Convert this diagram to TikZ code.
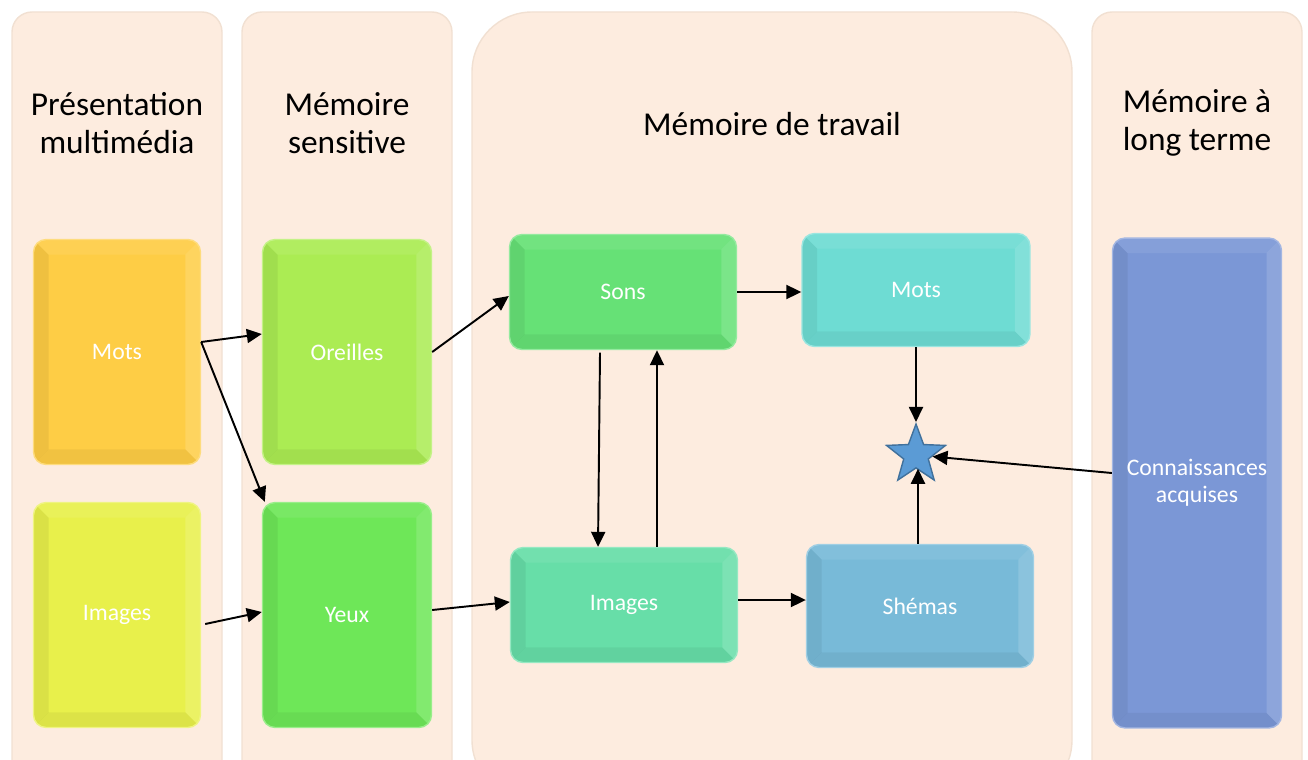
\documentclass[tikz,border=0pt]{standalone}
\usepackage{fontspec}
\setmainfont{Carlito}
\usetikzlibrary{arrows.meta,calc,shapes.geometric}

\definecolor{panelbg}{HTML}{FDECDF}
\definecolor{paneledge}{HTML}{F1E0D2}
\definecolor{motscol}{HTML}{FECD45}
\definecolor{imagescol}{HTML}{E8F04B}
\definecolor{oreillescol}{HTML}{ABEC53}
\definecolor{yeuxcol}{HTML}{6EE758}
\definecolor{sonscol}{HTML}{66E176}
\definecolor{imgtravcol}{HTML}{67DEA8}
\definecolor{motstravcol}{HTML}{6EDCD3}
\definecolor{shemascol}{HTML}{78BAD8}
\definecolor{conncol}{HTML}{7B97D6}
\definecolor{starfill}{HTML}{5B9BD5}
\definecolor{staredge}{HTML}{41719C}

\tikzset{
  panel/.style={fill=panelbg, draw=paneledge, line width=0.8pt},
  title/.style={font=\fontsize{19}{22}\selectfont, align=center, text=black},
  bevelbox/.style={rectangle, rounded corners=0.25cm, fill=#1, draw=#1!70!white,
    line width=0.8pt, text=white, align=center,
    font=\fontsize{13.5}{15.5}\selectfont,
    path picture={
      \path (path picture bounding box.south west) coordinate (bsw)
            (path picture bounding box.north east) coordinate (bne);
      % left and bottom faces darker, top and right lighter
      \fill[black, opacity=0.06, sharp corners] (bsw) -- (bsw |- bne)
        -- ($(bsw |- bne)+(0.3cm,-0.3cm)$) -- ($(bsw)+(0.3cm,0.3cm)$) -- cycle;
      \fill[black, opacity=0.05, sharp corners] (bsw) -- (bne |- bsw)
        -- ($(bne |- bsw)+(-0.3cm,0.3cm)$) -- ($(bsw)+(0.3cm,0.3cm)$) -- cycle;
      \fill[white, opacity=0.08, sharp corners] (bsw |- bne) -- (bne)
        -- ($(bne)+(-0.3cm,-0.3cm)$) -- ($(bsw |- bne)+(0.3cm,-0.3cm)$) -- cycle;
      \fill[white, opacity=0.14, sharp corners] (bne) -- (bne |- bsw)
        -- ($(bne |- bsw)+(-0.3cm,0.3cm)$) -- ($(bne)+(-0.3cm,-0.3cm)$) -- cycle;
    }},
  flow/.style={-{Triangle[length=0.3cm,width=0.28cm]}, line width=1.1pt, black},
}

\begin{document}
\begin{tikzpicture}[x=0.02cm, y=-0.02cm]
\useasboundingbox (0,0) rectangle (1308,760);
\clip (0,0) rectangle (1308,760);

% columns
\foreach \x in {12, 242, 1092}
{
  \draw[panel, rounded corners=0.4cm] (\x,12) rectangle (\x+210,800);
}
\draw[panel, rounded corners=1.2cm] (472,12) rectangle (1072,800);

% titles
\node[title] (tpres) at (117,123) {Présentation\\multimédia};
\node[title] (tsens) at (347,123) {Mémoire\\sensitive};
\node[title] (ttrav) at (772,124) {Mémoire de travail};
\node[title] (tlong) at (1197,123) {Mémoire à\\long terme};

% presentation and sensory memory
\node[bevelbox=motscol, minimum width=3.34cm, minimum height=4.5cm] (mots) at (117,352) {Mots};
\node[bevelbox=imagescol, minimum width=3.34cm, minimum height=4.5cm] (images) at (117,615) {Images};
\node[bevelbox=oreillescol, minimum width=3.38cm, minimum height=4.5cm] (oreilles) at (347,352) {Oreilles};
\node[bevelbox=yeuxcol, minimum width=3.38cm, minimum height=4.5cm] (yeux) at (347,615) {Yeux};

% working memory
\node[bevelbox=sonscol, minimum width=4.54cm, minimum height=2.3cm] (sons) at (623,292) {Sons};
\node[bevelbox=imgtravcol, minimum width=4.54cm, minimum height=2.3cm] (imgtrav) at (624,605) {Images};
\node[bevelbox=motstravcol, minimum width=4.56cm, minimum height=2.26cm] (motstrav) at (916,290) {Mots};
\node[bevelbox=shemascol, minimum width=4.54cm, minimum height=2.46cm] (shemas) at (920,606) {Shémas};
\node[star, star points=5, star point ratio=2.4, minimum size=1.24cm, inner sep=0pt,
      fill=starfill, draw=staredge, line width=0.8pt] (etoile) at (916,455) {};

% long term memory
\node[bevelbox=conncol, minimum width=3.38cm, minimum height=9.8cm] (conn) at (1197,483) {Connaissances\\acquises};

% connectors
\coordinate (motsout) at ([yshift=0.2cm]mots.east);
\draw[flow] (motsout) -- ([yshift=0.36cm]oreilles.west);
\draw[flow] (motsout) -- ([xshift=0.06cm]yeux.north west);
\draw[flow] (oreilles.east) -- ([yshift=-0.08cm]sons.west);
\draw[flow] ([xshift=0.08cm,yshift=-0.18cm]images.east) -- ([yshift=0.06cm]yeux.west);
\draw[flow] ([yshift=0.1cm]yeux.east) -- ([yshift=0.06cm]imgtrav.west);
\draw[flow] ([xshift=-0.46cm,yshift=-0.05cm]sons.south) -- ([xshift=-0.52cm]imgtrav.north);
\draw[flow] ([xshift=0.66cm]imgtrav.north) -- ([xshift=0.68cm]sons.south);
\draw[flow] (sons.east) -- (sons.east -| motstrav.west);
\draw[flow] ([yshift=0.1cm]imgtrav.east) -- ([yshift=0.1cm]imgtrav.east -| shemas.west);
\draw[flow] (motstrav.south) -- (etoile.north);
\draw[flow] ([xshift=-0.04cm]shemas.north) -- ([xshift=-0.04cm]shemas.north |- etoile.south);
\draw[flow] ([yshift=0.2cm]conn.west) -- (etoile);

\end{tikzpicture}
\end{document}
